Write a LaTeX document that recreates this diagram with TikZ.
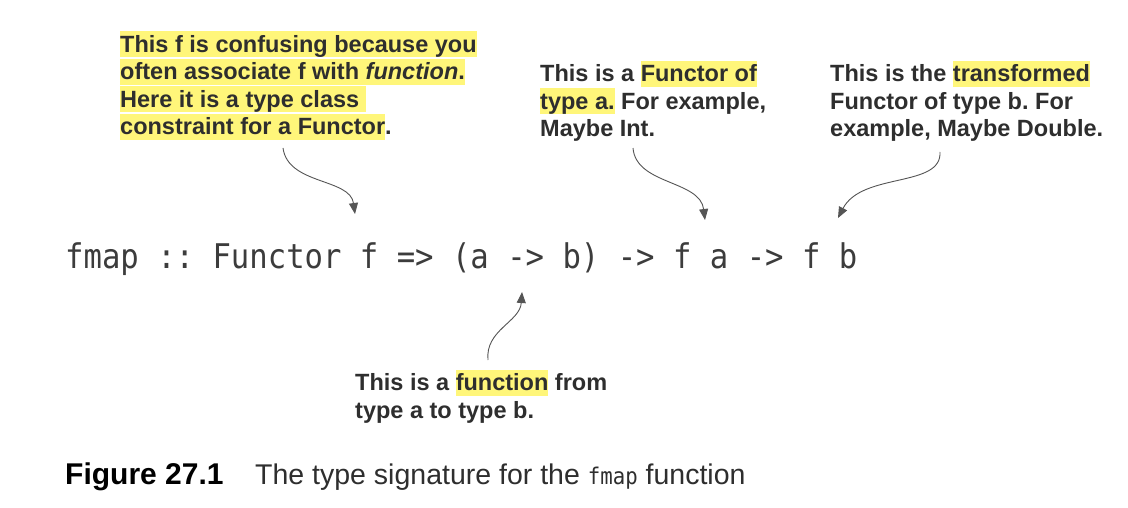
\documentclass[tikz,border=0pt]{standalone}
\usepackage{fontspec}
\setmainfont{Liberation Sans}
\newfontfamily\codefont[FakeStretch=0.9]{DejaVu Sans Mono}
\usetikzlibrary{arrows.meta}
\definecolor{hly}{HTML}{FFF67A}
\definecolor{txt}{HTML}{2E2E2E}
\definecolor{codec}{HTML}{3C3C3C}
\definecolor{arr}{HTML}{555555}
\newcommand\hl[1]{{\setlength\fboxsep{0pt}\colorbox{hly}{\rule[-5pt]{0pt}{26pt}#1}}}
\frenchspacing
\tikzset{
  note/.style={anchor=base west, inner sep=0pt, align=left, text=txt,
    font=\fontsize{23.5}{27.5}\selectfont\bfseries\frenchspacing},
  code/.style={anchor=base west, inner sep=0pt, text=codec,
    font=\fontsize{34}{40}\selectfont\codefont\frenchspacing},
  callout/.style={draw=arr, line width=0.9pt, -{Triangle[length=11pt,width=9pt]}},
}
\begin{document}
\begin{tikzpicture}[x=1pt,y=-1pt]
\path[use as bounding box, fill=white] (0,0) rectangle (1128,508);

% base anchor of a multi-line node = baseline of its last line
\node[note] (n1) at (120,135) {\hl{This f is confusing because you}\\
\hl{often associate f with \textit{function}.}\\
\hl{Here it is a type class\ }\\
\hl{constraint for a Functor}.};

\node[note] (n2) at (540,137) {This is a \hl{Functor of}\\
\hl{type a.} For example,\\
Maybe Int.};

\node[note] (n3) at (830,137) {This is the \hl{transformed}\\
Functor of type b. For\\
example, Maybe Double.};

\node[code] (sig) at (65,268) {fmap :: Functor f => (a -> b) -> f a -> f b};

\node[note] (n4) at (355,418) {This is a \hl{function} from\\
type a to type b.};

\node[anchor=base west, inner sep=0pt, text=black, font=\fontsize{30}{34}\selectfont\bfseries] (fig) at (65,484) {Figure 27.1};
\node[anchor=base west, inner sep=0pt, text=txt, font=\fontsize{28.5}{32}\selectfont] (cap) at (255,484) {The type signature for the {\fontsize{23}{28}\selectfont\codefont fmap} function};

\coordinate (s1) at (283,148);
\coordinate (t1) at (355,214);
\coordinate (s2) at (633,148);
\coordinate (t2) at (705,220);
\coordinate (s3) at (940,152);
\coordinate (t3) at (838,218);
\coordinate (s4) at (488,360);
\coordinate (t4) at (522,292);

\draw[callout] (s1) .. controls (288,185) and (350,178) .. (t1);
\draw[callout] (s2) .. controls (636,185) and (700,180) .. (t2);
\draw[callout] (s3) .. controls (942,188) and (862,172) .. (t3);
\draw[callout] (s4) .. controls (485,330) and (520,322) .. (t4);
\end{tikzpicture}
\end{document}
